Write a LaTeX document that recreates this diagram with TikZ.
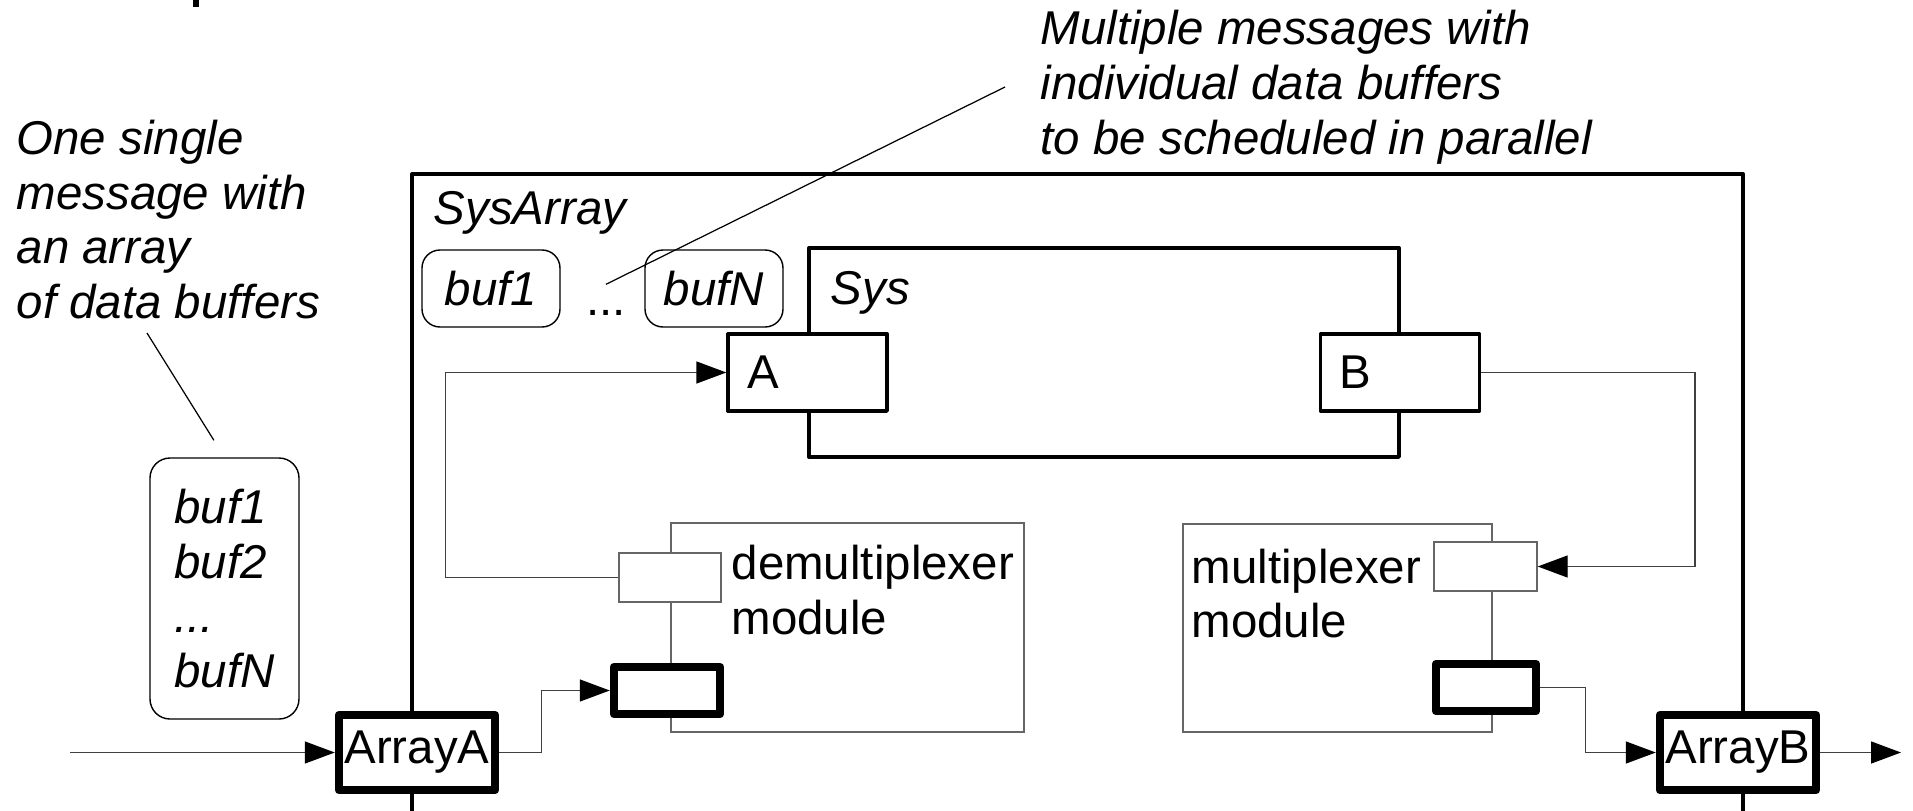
\documentclass[tikz,border=0pt]{standalone}
\usepackage{fontspec}
\setmainfont{Liberation Sans}
\usetikzlibrary{positioning, arrows.meta, calc}

\begin{document}
\fontsize{13.5}{15.6}\selectfont
\begin{tikzpicture}[>={Triangle[length=0.30cm, width=0.22cm, color=black]},
  frame/.style={draw, line width=0.95pt, line join=round, inner sep=0pt},
  port/.style={frame, fill=white, minimum width=1.59cm, minimum height=0.77cm,
               text width=1.21cm, inner xsep=0.19cm, align=left},
  arr/.style={draw, line width=2.4pt, line join=round, fill=white, inner sep=0pt,
              minimum width=1.56cm, minimum height=0.75cm},
  buf/.style={draw, line width=0.4pt, rounded corners=0.18cm, fill=white, inner sep=0pt,
              minimum width=1.38cm, minimum height=0.77cm, font=\itshape},
  module/.style={draw=black!60, line width=0.4pt, inner sep=0pt},
  plug/.style={draw=black!60, line width=0.4pt, fill=white, inner sep=0pt,
               minimum width=1.02cm, minimum height=0.49cm},
  plugthick/.style={draw, line width=2.4pt, line join=round, fill=white, inner sep=0pt,
                    minimum width=1.02cm, minimum height=0.47cm},
  note/.style={align=left, inner sep=0pt, anchor=west, font=\itshape},
  lbl/.style={align=left, inner sep=0pt, anchor=west},
  conn/.style={->, draw=black!75, line width=0.4pt},
  leader/.style={draw, line width=0.35pt}]
  \useasboundingbox (0,0) rectangle (19.13,8.10);
  \clip (0,0) rectangle (19.13,8.10);
  \fill (1.93,8.03) rectangle (1.99,8.10);

  \node[frame, minimum width=13.31cm, minimum height=6.86cm] (sysarray) at (10.775,2.93){};
  \node[lbl, font=\itshape] (sysarraylbl) at (4.33,5.97){SysArray};
  \node[frame, minimum width=5.90cm, minimum height=2.09cm] (sys) at (11.04,4.575){};
  \node[lbl, font=\itshape] (syslbl) at (8.30,5.17){Sys};
  \node[port] (A) at (8.075,4.375){A};
  \node[port] (B) at (14.00,4.375){B};

  \node[buf] (buf1) at (4.91,5.215){buf1};
  \node[inner sep=0pt, anchor=base, text height=0.3cm] (dots) at (6.06,4.95){...};
  \node[buf] (bufN) at (7.14,5.215){bufN};

  \node[buf, minimum width=1.49cm, minimum height=2.61cm, rounded corners=0.2cm, align=left]
    (bufs) at (2.245,2.215){buf1\\ buf2\\ ...\\ bufN};

  \node[module, minimum width=3.53cm, minimum height=2.09cm] (dmx) at (8.475,1.825){};
  \node[lbl] (dmxlbl) at (7.31,2.20){demultiplexer\\ module};
  \node[plug] (dmxin) at (6.70,2.325){};
  \node[plugthick, minimum width=1.06cm] (dmxout) at (6.67,1.195){};

  \node[module, minimum width=3.09cm, minimum height=2.08cm] (mx) at (13.375,1.82){};
  \node[lbl] (mxlbl) at (11.91,2.165){multiplexer\\ module};
  \node[plug, minimum width=1.03cm] (mxin) at (14.855,2.435){};
  \node[plugthick, minimum width=1.00cm] (mxout) at (14.86,1.225){};

  \node[arr] (arrayA) at (4.17,0.575){ArrayA};
  \node[arr] (arrayB) at (17.38,0.575){ArrayB};

  \node[note] (single) at (0.16,5.905){One single\\ message with\\ an array\\ of data buffers};
  \node[note, inner xsep=0.35cm] (multi) at (10.05,7.23){Multiple messages with\\ individual data buffers\\ to be scheduled in parallel};
  \coordinate (singlefoot) at (1.47,4.77);
  \draw[leader, shorten >=0.2cm] (singlefoot) -- (bufs.north);
  \draw[leader] (multi.west) -- (dots.north);

  \coordinate (in) at (0.70,0.575);
  \coordinate (out) at (19.01,0.575);
  \draw[conn] (in) -- (arrayA.west);
  \draw[conn] (arrayA.east) -- ++(0.42,0) |- (dmxout.west);
  \draw[conn] (dmxin.west) -- ++(-1.73,0) |- (A.west);
  \draw[conn] (B.east) -- ++(2.14,0) |- (mxin.east);
  \draw[conn] (mxout.east) -- ++(0.45,0) |- (arrayB.west);
  \draw[conn] (arrayB.east) -- (out);
\end{tikzpicture}
\end{document}
